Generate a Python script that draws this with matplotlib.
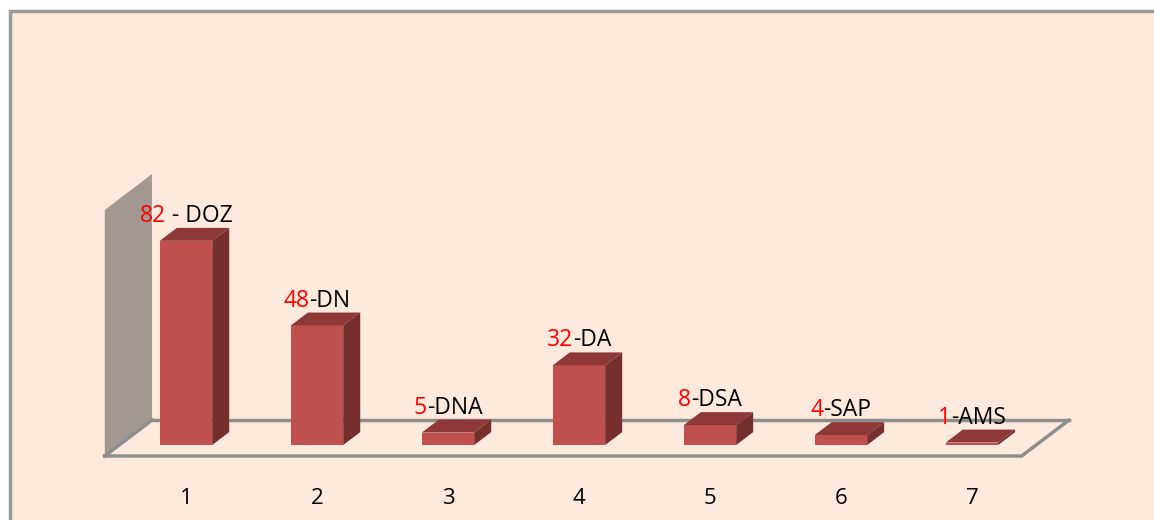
import matplotlib.pyplot as plt
from matplotlib.patches import Polygon, Rectangle
from matplotlib.offsetbox import TextArea, HPacker, AnnotationBbox

plt.rcParams['font.family'] = ['Open Sans', 'DejaVu Sans']

# data
categories = [1, 2, 3, 4, 5, 6, 7]
values = [82, 48, 5, 32, 8, 4, 1]
codes = [' - DOZ', '-DN', '-DNA', '-DA', '-DSA', '-SAP', '-AMS']

front_col = '#C0504D'
top_col = '#8E3937'
side_col = '#772F2E'
bg_col = '#FDEADC'
wall_col = '#A39891'
floor_col = '#8E8E8E'

fig = plt.figure(figsize=(11.54, 5.2), dpi=100, facecolor='white')

ax = fig.add_axes([0, 0, 1, 1])
ax.set_xlim(-0.42, 8.39)
ax.set_ylim(-30.1, 178.7)
ax.axis('off')
ax.patch.set_alpha(0)

# chart area background with its grey frame (cut off on right/bottom)
ax.add_patch(Rectangle((10 / 1154, -0.1), 1.2, 1.1 - 11 / 520,
                       transform=fig.transFigure, facecolor=bg_col,
                       edgecolor='#9A9A9A', lw=2.5, zorder=0, clip_on=False))

# depth of the pseudo 3d effect
bdx, bdy = 0.13, 5.2
fx0, fx1 = 0.38, 7.38
fdx, fdy = 0.36, 14.4
fy = -4.4

# back wall on the left
ax.add_patch(Polygon([(fx0, fy), (fx0, 94.4), (fx0 + fdx, 94.4 + fdy), (fx0 + fdx, fy + fdy)],
                     closed=True, facecolor=wall_col, edgecolor='none', zorder=1))

# floor outline
ax.plot([fx0 + fdx, fx1 + fdx], [fy + fdy, fy + fdy], color=floor_col, lw=2.5, zorder=1)
ax.plot([fx0, fx1, fx1 + fdx], [fy, fy, fy + fdy], color=floor_col, lw=2.5, zorder=2)
ax.plot([fx0, fx0 + fdx], [fy, fy + fdy], color=floor_col, lw=2.5, zorder=2)

w = 0.4
ax.bar(categories, values, width=w, color=front_col, zorder=3)
for c, v in zip(categories, values):
    x0, x1 = c - w / 2, c + w / 2
    ax.add_patch(Polygon([(x0, v), (x1, v), (x1 + bdx, v + bdy), (x0 + bdx, v + bdy)],
                         closed=True, facecolor=top_col, edgecolor='none', zorder=3))
    ax.add_patch(Polygon([(x1, 0), (x1, v), (x1 + bdx, v + bdy), (x1 + bdx, bdy)],
                         closed=True, facecolor=side_col, edgecolor='none', zorder=3))

# labels: red number + black code
for c, v, code in zip(categories, values, codes):
    num = TextArea(str(v), textprops=dict(color='red', fontsize=16.5))
    txt = TextArea(code, textprops=dict(color='black', fontsize=16.5))
    box = HPacker(children=[num, txt], pad=0, sep=0, align='baseline')
    ab = AnnotationBbox(box, (c, v + 10), frameon=False, box_alignment=(0.5, 0.5), zorder=4)
    ax.add_artist(ab)

# category labels
for c in categories:
    ax.text(c, -21.5, str(c), ha='center', va='center', fontsize=16, color='black')

fig.savefig('out.png', dpi=100, facecolor=fig.get_facecolor())
